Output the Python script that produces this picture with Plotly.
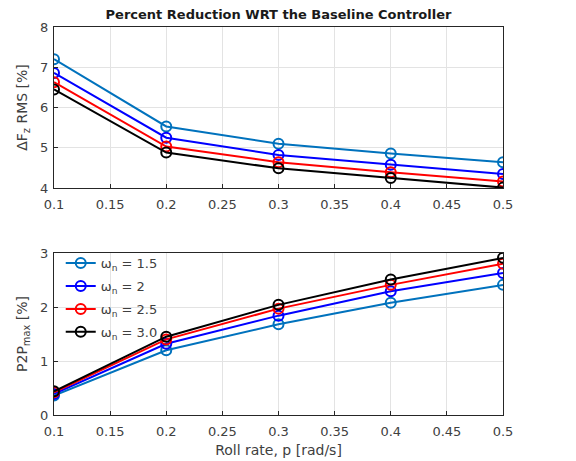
import plotly.graph_objects as go

x = [0.1, 0.2, 0.3, 0.4, 0.5]
labels = ["ω<sub>n</sub> = 1.5", "ω<sub>n</sub> = 2", "ω<sub>n</sub> = 2.5", "ω<sub>n</sub> = 3.0"]
colors = ["#0072BD", "#0000FF", "#FF0000", "#000000"]

rms_15 = [7.20, 5.53, 5.10, 4.86, 4.64]
rms_20 = [6.86, 5.25, 4.82, 4.58, 4.35]
rms_25 = [6.63, 5.03, 4.64, 4.39, 4.16]
rms_30 = [6.45, 4.88, 4.49, 4.25, 4.01]

p2p_15 = [0.36, 1.20, 1.68, 2.08, 2.41]
p2p_20 = [0.39, 1.32, 1.84, 2.29, 2.63]
p2p_25 = [0.42, 1.40, 1.97, 2.41, 2.80]
p2p_30 = [0.44, 1.45, 2.04, 2.51, 2.91]

xticks = [0.1, 0.15, 0.2, 0.25, 0.3, 0.35, 0.4, 0.45, 0.5]
xticktext = ["0.1", "0.15", "0.2", "0.25", "0.3", "0.35", "0.4", "0.45", "0.5"]

rms = [rms_15, rms_20, rms_25, rms_30]
p2p = [p2p_15, p2p_20, p2p_25, p2p_30]

fig = go.Figure()
for i in range(4):
    fig.add_trace(go.Scatter(x=x, y=rms[i], mode="lines+markers", name=labels[i],
                             line=dict(color=colors[i], width=2),
                             marker=dict(symbol="circle-open", size=10, color=colors[i], line=dict(width=2)),
                             showlegend=False, xaxis="x", yaxis="y"))
for i in range(4):
    fig.add_trace(go.Scatter(x=x, y=p2p[i], mode="lines+markers", name=labels[i],
                             legendgroup=f"g{i}",
                             line=dict(color=colors[i], width=2),
                             marker=dict(symbol="circle-open", size=10, color=colors[i], line=dict(width=2)),
                             showlegend=True, xaxis="x2", yaxis="y2"))

FAM = "DejaVu Sans, Arial, sans-serif"
font = dict(family=FAM, size=13, color="#404040")
tfont = dict(family=FAM, size=14, color="#404040")
axcommon = dict(showgrid=True, gridcolor="#e3e3e3", gridwidth=1, zeroline=False,
                showline=True, linecolor="#262626", linewidth=1, mirror=True, automargin=False,
                ticks="inside", ticklen=4, tickcolor="#262626", tickfont=font)

fig.update_layout(
    width=576, height=461,
    margin=dict(l=54, r=73, t=27, b=46),
    plot_bgcolor="white", paper_bgcolor="white",
    font=font,
    title=dict(text="<b>Percent Reduction WRT the Baseline Controller</b>",
               x=(54 + 503) / 2 / 576, xanchor="center", y=1 - 14 / 461, yanchor="middle",
               font=dict(family=FAM, size=13, color="#1a1a1a")),
    xaxis=dict(domain=[0, 1], range=[0.1, 0.5], tickvals=xticks, ticktext=xticktext,
               anchor="y", ticklabelstandoff=4, **axcommon),
    yaxis=dict(domain=[0.585, 1], range=[4, 8], tickvals=[4, 5, 6, 7, 8], anchor="x",
               ticklabelstandoff=2,
               title=dict(text="ΔF<sub>z</sub> RMS [%]", font=tfont, standoff=9), **axcommon),
    xaxis2=dict(domain=[0, 1], range=[0.1, 0.5], tickvals=xticks, ticktext=xticktext,
                anchor="y2", ticklabelstandoff=4,
                title=dict(text="Roll rate, p [rad/s]", font=tfont, standoff=7), **axcommon),
    yaxis2=dict(domain=[0, 0.4175], range=[0, 3], tickvals=[0, 1, 2, 3], anchor="x2",
                ticklabelstandoff=2,
                title=dict(text="P2P<sub>max</sub> [%]", font=tfont, standoff=9), **axcommon),
    legend=dict(x=0.015, y=0.43, xanchor="left", yanchor="top", bgcolor="rgba(255,255,255,0)",
                borderwidth=0, font=font, tracegroupgap=3, itemwidth=30),
)

fig.write_html("out.html")
